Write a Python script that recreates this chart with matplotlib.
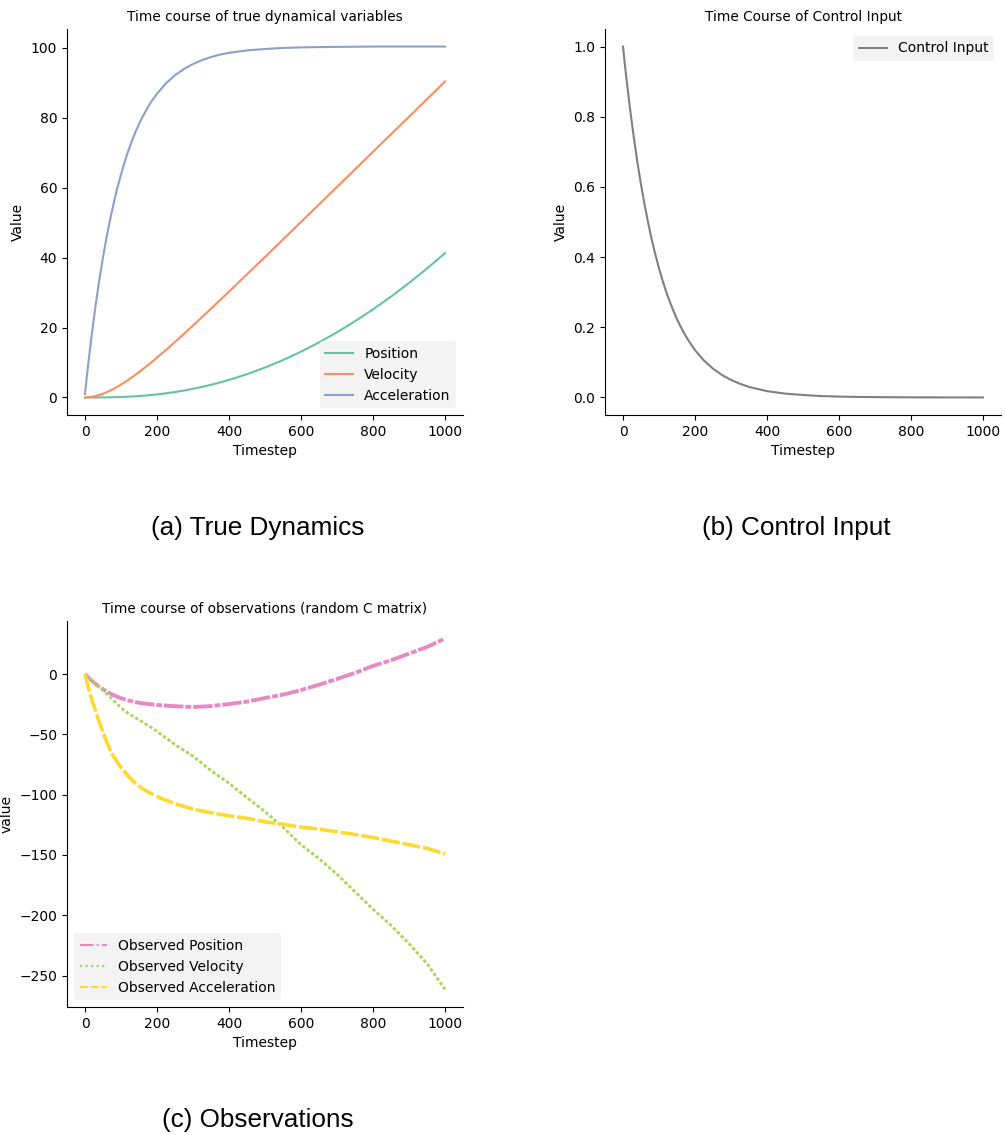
import matplotlib
matplotlib.use("Agg")
import matplotlib.pyplot as plt
from matplotlib.lines import Line2D

# ---------------- data ----------------
t_true = [0, 5, 10, 20, 30, 40, 50, 60, 70, 80, 90, 100, 110, 120, 130, 140, 150,
          160, 170, 180, 190, 200, 225, 250, 275, 300, 325, 350, 375, 400, 450,
          500, 550, 600, 650, 700, 750, 800, 850, 900, 950, 1000]
position = [0.0, 0.0, 0.0002, 0.0013, 0.0042, 0.0097, 0.0185, 0.031, 0.048, 0.071,
            0.098, 0.133, 0.173, 0.22, 0.275, 0.335, 0.405, 0.48, 0.565, 0.66,
            0.76, 0.87, 1.185, 1.555, 1.98, 2.47, 3.02, 3.62, 4.29, 5.02, 6.66,
            8.56, 10.7, 13.1, 15.75, 18.65, 21.8, 25.2, 28.85, 32.75, 36.9, 41.3]
velocity = [0.0, 0.012, 0.048, 0.187, 0.41, 0.70, 1.07, 1.49, 1.97, 2.49, 3.07,
            3.68, 4.34, 5.02, 5.75, 6.49, 7.26, 8.05, 8.86, 9.69, 10.54, 11.4,
            13.6, 15.88, 18.2, 20.6, 23.0, 25.4, 27.85, 30.3, 35.25, 40.2, 45.2,
            50.2, 55.2, 60.25, 65.25, 70.3, 75.3, 80.3, 85.35, 90.4]
acceleration = [1.0, 5.85, 10.5, 19.0, 26.8, 33.8, 40.1, 45.9, 51.0, 55.7, 60.0,
                63.8, 67.3, 70.5, 73.3, 75.9, 78.2, 80.3, 82.2, 84.0, 85.5, 86.9,
                89.9, 92.2, 94.0, 95.4, 96.5, 97.4, 98.1, 98.6, 99.3, 99.7, 100.0,
                100.15, 100.25, 100.3, 100.35, 100.4, 100.4, 100.4, 100.4, 100.4]
control = [1.0, 0.951, 0.905, 0.819, 0.741, 0.670, 0.607, 0.549, 0.497, 0.449,
           0.407, 0.368, 0.333, 0.301, 0.273, 0.247, 0.223, 0.202, 0.183, 0.165,
           0.150, 0.135, 0.105, 0.082, 0.064, 0.050, 0.039, 0.030, 0.024, 0.018,
           0.011, 0.007, 0.004, 0.0025, 0.0015, 0.001, 0.0006, 0.0003, 0.0002,
           0.0001, 0.0001, 0.0]

t_obs = [0, 10, 20, 30, 40, 50, 60, 70, 80, 90, 100, 120, 140, 160, 180, 200,
         250, 300, 350, 400, 450, 500, 550, 600, 650, 700, 750, 800, 850, 900,
         950, 1000]
obs_position = [0.0, -3.0, -5.8, -8.3, -10.6, -12.6, -14.4, -16.0, -17.4, -18.8,
                -20.0, -21.8, -23.2, -24.2, -25.0, -25.6, -26.6, -27.3, -26.5,
                -24.8, -22.8, -19.8, -17.0, -13.2, -8.8, -4.0, 1.0, 6.8, 11.5,
                17.0, 22.5, 29.5]
obs_velocity = [0.0, -3.0, -5.8, -8.4, -11.0, -13.5, -16.2, -19.0, -22.0, -25.0,
                -28.0, -32.5, -36.2, -39.8, -43.5, -47.5, -58.5, -68.0, -80.0,
                -90.5, -102.5, -114.0, -127.0, -141.5, -153.0, -166.0, -180.5,
                -195.0, -208.3, -223.5, -240.0, -261.5]
obs_acceleration = [0.0, -12.0, -22.0, -31.0, -40.0, -48.5, -56.0, -63.0, -68.5,
                    -73.0, -77.5, -84.5, -90.5, -95.0, -98.5, -101.5, -107.5,
                    -112.0, -115.0, -117.5, -119.5, -122.5, -124.5, -126.8,
                    -128.5, -130.8, -133.0, -135.5, -138.5, -141.5, -144.5, -149.0]

# ---------------- styling ----------------
plt.rcParams['font.family'] = ['DejaVu Sans']
W, H = 1005, 1135
fig = plt.figure(figsize=(W / 100, H / 100), dpi=100)


def px_axes(left, top, right, bottom):
    return fig.add_axes([left / W, 1 - bottom / H, (right - left) / W, (bottom - top) / H])


def style(ax):
    ax.spines['top'].set_visible(False)
    ax.spines['right'].set_visible(False)
    ax.tick_params(labelsize=10)


leg_kw = dict(fontsize=10, facecolor='#f0f0f0', edgecolor='none', framealpha=0.8)
TFS = 9.8

# (a) true dynamics
ax1 = px_axes(67, 29, 463, 415)
ax1.plot(t_true, position, color='#66c2a5', lw=1.5, label='Position')
ax1.plot(t_true, velocity, color='#fc8d62', lw=1.5, label='Velocity')
ax1.plot(t_true, acceleration, color='#8da0cb', lw=1.5, label='Acceleration')
ax1.set_title('Time course of true dynamical variables', fontsize=TFS)
ax1.set_xlabel('Timestep', fontsize=10)
ax1.set_ylabel('Value', fontsize=10)
ax1.legend(loc='lower right', **leg_kw)
style(ax1)

# (b) control input
ax2 = px_axes(605, 29, 1001, 415)
ax2.plot(t_true, control, color='#808080', lw=1.5, label='Control Input')
ax2.set_title('Time Course of Control Input', fontsize=TFS)
ax2.set_xlabel('Timestep', fontsize=10)
ax2.set_ylabel('Value', fontsize=10)
ax2.legend(loc='upper right', **leg_kw)
style(ax2)

# (c) observations
c_pos, c_vel, c_acc = '#e78ac3', '#a6d854', '#ffd92f'
ax3 = px_axes(67, 621, 463, 1007)
ax3.plot(t_obs, obs_position, color=c_pos, lw=2.8, dashes=[5, 0.5, 1.5, 0.5])
ax3.plot(t_obs, obs_velocity, color=c_vel, lw=2.0, dashes=[1.2, 0.8])
ax3.plot(t_obs, obs_acceleration, color=c_acc, lw=2.6, dashes=[5, 0.8])
ax3.set_title('Time course of observations (random C matrix)', fontsize=TFS)
ax3.set_xlabel('Timestep', fontsize=10)
ax3.set_ylabel('value', fontsize=10)
handles = [Line2D([], [], color=c_pos, lw=1.5, ls='-.'),
           Line2D([], [], color=c_vel, lw=1.5, ls=':'),
           Line2D([], [], color=c_acc, lw=1.5, ls='--')]
ax3.legend(handles, ['Observed Position', 'Observed Velocity', 'Observed Acceleration'],
           loc='lower left', **leg_kw)
style(ax3)

cap = dict(fontsize=18.8, family=['Liberation Sans', 'DejaVu Sans'], ha='center', va='center')
fig.text(258 / W, 1 - 528 / H, '(a) True Dynamics', **cap)
fig.text(796 / W, 1 - 528 / H, '(b) Control Input', **cap)
fig.text(258 / W, 1 - 1120 / H, '(c) Observations', **cap)

fig.savefig('out.png', dpi=100)
